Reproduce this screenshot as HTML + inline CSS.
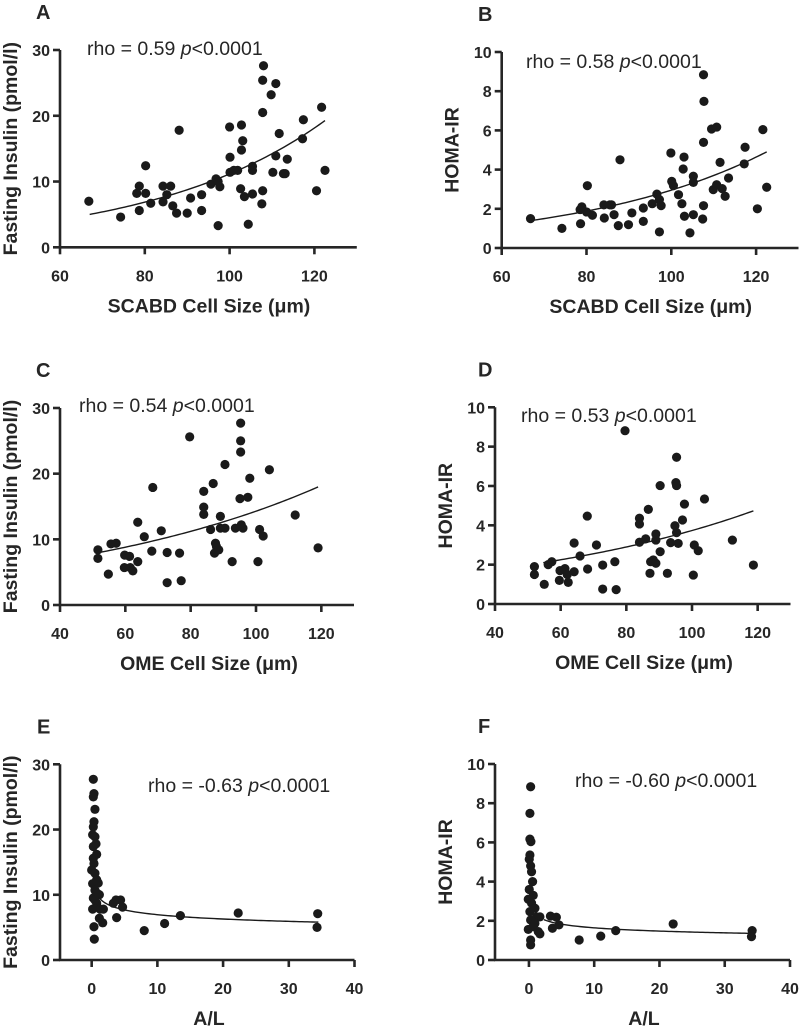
<!DOCTYPE html>
<html><head><meta charset="utf-8"><style>
html,body{margin:0;padding:0;background:#fff;}
svg{display:block;font-family:"Liberation Sans",Arial,sans-serif;}
</style></head><body>
<svg id="fig" width="800" height="1029" viewBox="0 0 800 1029" xmlns="http://www.w3.org/2000/svg"></svg>
<script>
// ---- Data ----
const xA = [66.8,74.3,78.7,78.7,78.1,80.2,80.2,81.4,84.3,84.3,85.2,86.1,86.6,87.5,88.1,90.0,90.8,93.4,93.4,95.6,96.8,97.3,97.7,97.3,100.0,100.1,100.1,101.9,101.0,102.8,103.1,102.8,102.6,103.5,104.4,105.4,105.4,105.4,108.0,107.8,107.8,107.8,107.6,109.8,110.9,110.2,110.9,111.7,112.7,113.1,113.6,117.4,117.2,120.5,121.7,122.5];
const yA = [7.0,4.6,9.3,5.6,8.2,8.2,12.4,6.7,9.3,6.9,8.0,9.3,6.3,5.2,17.8,5.2,7.5,8.0,5.6,9.6,10.4,3.3,9.2,10.0,18.3,13.7,11.4,11.7,11.7,18.6,16.2,14.8,8.9,7.7,3.5,8.1,12.3,11.7,27.6,25.4,20.5,8.6,6.6,23.2,24.9,11.4,13.9,17.3,11.2,11.2,13.4,19.4,16.5,8.6,21.3,11.7];
const xB = [66.8,74.2,78.5,78.6,78.9,80.2,80.0,81.4,84.1,84.2,85.5,85.9,86.5,87.5,87.9,89.9,90.7,93.4,93.4,95.5,96.6,97.2,97.2,97.6,99.9,100.1,100.5,101.7,102.5,103.0,102.8,103.1,104.4,105.2,105.2,105.2,107.6,107.7,107.6,107.6,107.4,109.5,110.7,109.9,110.7,111.5,112.0,112.7,113.5,117.4,117.2,120.3,121.6,122.5];
const yB = [1.5,1.0,1.96,1.24,2.1,3.18,1.84,1.67,2.2,1.53,2.2,2.2,1.7,1.14,4.5,1.19,1.79,2.04,1.36,2.26,2.75,2.47,0.82,2.16,4.85,3.4,3.18,2.72,2.26,4.64,4.03,1.62,0.77,3.66,3.35,1.7,8.84,7.48,5.39,2.16,1.48,6.07,6.17,2.98,3.23,4.37,3.03,2.64,3.57,5.14,4.29,2.0,6.04,3.1];
const xC = [51.6,51.6,54.8,55.6,57.2,59.8,59.7,61.3,61.5,62.3,63.8,63.8,65.8,68.4,68.1,71.0,72.8,72.8,76.6,77.1,79.7,84.0,84.0,84.0,86.9,86.1,87.3,87.6,87.9,88.6,89.1,89.1,90.5,90.5,92.7,93.7,95.1,95.3,95.3,95.3,95.5,96.0,97.5,98.1,101.1,102.2,100.6,104.1,112.0,119.0];
const yC = [8.4,7.1,4.7,9.3,9.4,7.6,5.7,7.4,5.7,5.2,6.6,12.6,10.4,17.9,8.2,11.3,8.0,3.4,7.9,3.7,25.6,17.3,14.9,13.8,18.5,11.5,7.9,9.4,8.9,8.4,13.5,11.7,11.7,21.4,6.6,11.7,16.2,27.7,25.0,23.3,12.2,11.7,16.4,19.3,11.5,10.5,6.6,20.6,13.7,8.7];
const xD = [52.0,52.0,55.0,56.2,57.3,59.8,59.6,61.3,62.0,62.3,64.1,64.1,65.9,68.1,68.2,70.9,72.8,72.8,76.5,76.9,79.6,84.0,84.0,84.0,85.9,86.7,87.2,87.4,88.2,89.0,89.0,89.0,90.3,90.3,92.5,93.5,94.8,95.3,95.1,95.3,95.3,95.8,97.1,97.7,100.4,100.7,101.9,103.8,112.3,118.7];
const yD = [1.9,1.5,1.0,2.0,2.15,1.7,1.2,1.8,1.5,1.1,1.64,3.1,2.44,4.47,1.78,3.0,1.98,0.76,2.15,0.73,8.81,4.36,4.07,3.14,3.31,4.81,1.56,2.15,2.24,2.07,3.56,3.25,2.66,6.02,1.56,3.12,3.98,7.46,6.17,6.02,3.63,3.08,4.27,5.08,1.47,3.0,2.71,5.34,3.25,1.98];
const xE = [0.25,0.35,0.25,0.5,0.35,0.25,0.15,0.5,0.66,0.25,0.76,0.25,0.35,0.0,0.5,0.76,0.15,1.0,0.5,1.17,0.25,0.76,0.15,1.27,1.78,1.17,1.68,0.35,0.4,0.86,0.5,3.3,3.7,4.4,4.7,3.8,8.0,11.1,13.5,22.3,34.4,34.3];
const yE = [27.7,25.5,25.0,23.1,21.2,20.4,19.2,18.9,17.8,17.4,16.2,15.6,14.8,13.8,13.3,12.3,11.7,11.8,10.7,10.0,9.5,8.7,7.8,7.8,7.8,6.4,5.7,5.1,3.2,10.2,9.2,8.7,9.2,9.2,8.1,6.5,4.5,5.6,6.8,7.2,7.1,5.0];
const xF = [0.26,0.15,0.15,0.3,0.15,0.05,0.26,0.4,0.56,0.05,0.66,-0.1,0.4,0.92,0.15,1.17,1.68,0.26,0.92,-0.1,1.43,1.68,0.26,0.26,0.66,3.3,4.2,3.6,4.6,7.7,11.0,13.3,22.1,34.2,34.1];
const yF = [8.84,7.48,6.17,6.04,5.36,5.14,4.8,4.5,4.0,3.6,3.3,3.1,2.9,2.64,2.47,2.2,2.2,2.04,1.87,1.56,1.45,1.33,1.02,0.77,1.7,2.24,2.18,1.62,1.79,1.02,1.22,1.5,1.84,1.5,1.19];
// fitted curve parameters [a, b] and ranges [xStart, xEnd]
const fitA = [0.982, 0.0243], fitRangeA = [67, 122.5];
const fitB = [0.309, 0.02257], fitRangeB = [67, 122.5];
const fitC = [4.26, 0.0121], fitRangeC = [52, 119];
const fitD = [1.05, 0.01269], fitRangeD = [54.7, 118.7];
const fitE = [9.7, -0.145], fitRangeE = [1.2, 34.5];
const fitF = [2.34, -0.154], fitRangeF = [2.3, 34.2];
// tick labels
const ticksSCABD = [60,80,100,120];
const ticksOME = [40,60,80,100,120];
const ticksAL = [0,10,20,30,40];
const ticksIns = [0,10,20,30];
const ticksHoma = [0,2,4,6,8,10];
const rhoLabels = ["0.59","0.58","0.54","0.53","-0.63","-0.60"];

const NS = "http://www.w3.org/2000/svg";
const svg = document.getElementById('fig');
function mk(tag, attrs, parent){
  const e = document.createElementNS(NS, tag);
  for (const k in attrs) e.setAttribute(k, attrs[k]);
  (parent||svg).appendChild(e);
  return e;
}
const INK = "#262626";

function panel(p){
  const g = mk('g', {});
  
  
  const sx = v => p.ax + (v - p.xmin) * (p.xr - p.ax) / (p.xmax - p.xmin);
  const sy = v => p.yb - (v - p.ymin) * (p.yb - p.yt) / (p.ymax - p.ymin);
  const L = mk('text', {x:p.letterX, y:p.yt - 31, 'font-size':20, 'font-weight':'bold', fill:INK}, g);
  L.textContent = p.letter;
  
  
  const xa = mk('line', {x1:p.ax - 1, y1:p.yb, x2:p.xr, y2:p.yb, stroke:INK, 'stroke-width':2.6}, g);
  
  
  const ya = mk('line', {x1:p.ax, y1:p.yt, x2:p.ax, y2:p.yb + 1, stroke:INK, 'stroke-width':2.6}, g);
  
  
  p.xt.forEach(t => {
    const x = sx(t);
    const tk = mk('line', {x1:x, y1:p.yb, x2:x, y2:p.yb + 7, stroke:INK, 'stroke-width':2.6}, g);
    
    
    const tl = mk('text', {x:x, y:p.yb + 34, 'font-size':16, 'font-weight':'bold', 'text-anchor':'middle', fill:INK}, g);
    tl.textContent = t;
    
    
  });
  p.yticks.forEach(t => {
    const y = sy(t);
    const tk = mk('line', {x1:p.ax - 7, y1:y, x2:p.ax, y2:y, stroke:INK, 'stroke-width':2.6}, g);
    
    
    const tl = mk('text', {x:p.ax - 10, y:y + 6, 'font-size':16, 'font-weight':'bold', 'text-anchor':'end', fill:INK}, g);
    tl.textContent = t;
    
    
  });
  const xl = mk('text', {x:(p.ax + p.xlc), y:p.yb + 65, 'font-size':19.5, 'font-weight':'bold', 'text-anchor':'middle', fill:INK}, g);
  xl.textContent = p.xlabel;
  
  
  const cy = (p.yt + p.yb) / 2, cx = p.ax - 43;
  const yl = mk('text', {x:cx, y:cy, 'font-size':19.5, 'font-weight':'bold', 'text-anchor':'middle', fill:INK, transform:`rotate(-90 ${cx} ${cy})`}, g);
  yl.textContent = p.ylabel;
  
  
  const r = mk('text', {x:p.rx, y:p.ry, 'font-size':19.5, fill:INK}, g);
  
  
  const t1 = mk('tspan', {}, r); t1.textContent = 'rho = ' + p.rho + ' ';
  const t2 = mk('tspan', {'font-style':'italic'}, r); t2.textContent = 'p';
  const t3 = mk('tspan', {}, r); t3.textContent = '<0.0001';
  p.xs.forEach((v, i) => {
    const c = mk('circle', {cx:sx(v), cy:sy(p.ys[i]), r:4.6, fill:'#1a1a1a'}, g);
    
    
  });
  let d = '';
  const N = 80;
  for (let i = 0; i <= N; i++) {
    const x = p.fr[0] + (p.fr[1] - p.fr[0]) * i / N;
    const y = p.power ? p.fit[0] * Math.pow(x, p.fit[1]) : p.fit[0] * Math.exp(p.fit[1] * x);
    d += (i ? 'L' : 'M') + sx(x).toFixed(2) + ',' + sy(y).toFixed(2);
  }
  const fc = mk('path', {d:d, fill:'none', stroke:'#1a1a1a', 'stroke-width':1.4}, g);
  
  
}

panel({letter:'A', letterX:36, ax:60, xr:356.8, xmin:60, xmax:130, yt:50, yb:247.3, ymin:0, ymax:30,
  xt:ticksSCABD, yticks:ticksIns, xlabel:'SCABD Cell Size (\u03bcm)', xlc:149, ylabel:'Fasting Insulin (pmol/l)',
  rx:87, ry:55, rho:rhoLabels[0], xs:xA, ys:yA, fit:fitA, fr:fitRangeA, power:false});
panel({letter:'B', letterX:478, ax:501.7, xr:798.5, xmin:60, xmax:130, yt:52, yb:248, ymin:0, ymax:10,
  xt:ticksSCABD, yticks:ticksHoma, xlabel:'SCABD Cell Size (\u03bcm)', xlc:149, ylabel:'HOMA-IR',
  rx:526, ry:68, rho:rhoLabels[1], xs:xB, ys:yB, fit:fitB, fr:fitRangeB, power:false});
panel({letter:'C', letterX:36, ax:60, xr:354, xmin:40, xmax:130, yt:408, yb:605, ymin:0, ymax:30,
  xt:ticksOME, yticks:ticksIns, xlabel:'OME Cell Size (\u03bcm)', xlc:149, ylabel:'Fasting Insulin (pmol/l)',
  rx:79, ry:412, rho:rhoLabels[2], xs:xC, ys:yC, fit:fitC, fr:fitRangeC, power:false});
panel({letter:'D', letterX:478, ax:495, xr:790.5, xmin:40, xmax:130, yt:407.3, yb:604, ymin:0, ymax:10,
  xt:ticksOME, yticks:ticksHoma, xlabel:'OME Cell Size (\u03bcm)', xlc:149, ylabel:'HOMA-IR',
  rx:521, ry:422, rho:rhoLabels[3], xs:xD, ys:yD, fit:fitD, fr:fitRangeD, power:false});
panel({letter:'E', letterX:37, ax:60, xr:354.5, xmin:-4.82, xmax:40, yt:764.3, yb:960, ymin:0, ymax:30,
  xt:ticksAL, yticks:ticksIns, xlabel:'A/L', xlc:149, ylabel:'Fasting Insulin (pmol/l)',
  rx:148, ry:792, rho:rhoLabels[4], xs:xE, ys:yE, fit:fitE, fr:fitRangeE, power:true});
panel({letter:'F', letterX:478, ax:495, xr:790, xmin:-5.2, xmax:40, yt:764, yb:960, ymin:0, ymax:10,
  xt:ticksAL, yticks:ticksHoma, xlabel:'A/L', xlc:149, ylabel:'HOMA-IR',
  rx:575, ry:787, rho:rhoLabels[5], xs:xF, ys:yF, fit:fitF, fr:fitRangeF, power:true});
</script>
</body></html>
